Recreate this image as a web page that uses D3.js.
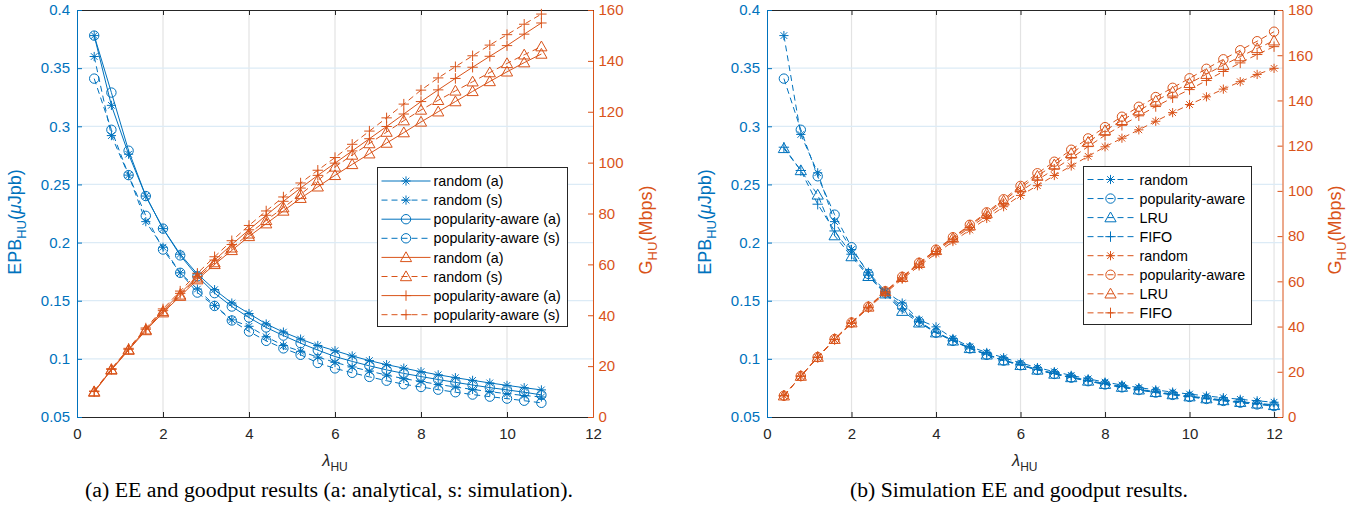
<!DOCTYPE html>
<html><head><meta charset="utf-8">
<script src="https://cdn.jsdelivr.net/npm/d3@7"></script>
<style>body{margin:0;background:#fff}</style>
</head><body>
<svg id="c" width="1364" height="510"></svg>
<script>
// ---------- DATA ----------
const lambdaA = [0.4,0.8,1.2,1.6,2.0,2.4,2.8,3.2,3.6,4.0,4.4,4.8,5.2,5.6,6.0,6.4,6.8,7.2,7.6,8.0,8.4,8.8,9.2,9.6,10.0,10.4,10.8];
const epbRandA = [0.378,0.318,0.276,0.240,0.212,0.190,0.173,0.1595,0.148,0.139,0.130,0.123,0.117,0.1115,0.107,0.1025,0.0985,0.095,0.092,0.089,0.0863,0.0838,0.0815,0.0793,0.0772,0.0752,0.0733];
const epbRandS = [0.360,0.292,0.258,0.218,0.196,0.174,0.160,0.146,0.1335,0.128,0.119,0.1115,0.1065,0.1015,0.097,0.093,0.0895,0.086,0.083,0.0805,0.078,0.0758,0.0737,0.0718,0.0700,0.0685,0.0672];
const epbPopA  = [0.378,0.329,0.279,0.240,0.212,0.189,0.171,0.1565,0.145,0.1355,0.127,0.120,0.1135,0.1075,0.102,0.0978,0.094,0.0905,0.0875,0.0848,0.0822,0.0798,0.0775,0.0753,0.0733,0.0713,0.0690];
const epbPopS  = [0.341,0.297,0.258,0.223,0.194,0.174,0.157,0.1455,0.133,0.1235,0.1155,0.109,0.1035,0.0965,0.0918,0.088,0.0845,0.0812,0.0782,0.0758,0.0735,0.0713,0.0693,0.0675,0.0658,0.0640,0.0622];
const gpRandA = [9.8,18.5,26.3,34.0,41.0,47.5,54.0,60.0,65.5,71.0,76.0,81.0,86.0,90.5,95.0,99.3,103.5,107.7,111.8,116.0,120.0,124.0,128.0,131.9,135.7,139.3,142.7];
const gpRandS = [10.0,18.7,26.5,34.3,41.5,48.0,54.7,60.7,66.5,72.0,77.3,82.3,87.5,93.0,98.3,103.0,107.5,112.0,116.5,120.7,124.5,128.2,131.8,135.4,139.0,142.4,145.6];
const gpPopA  = [10.0,18.7,26.6,34.5,41.8,48.6,55.3,61.7,67.8,73.6,79.3,84.8,90.0,95.0,99.8,104.6,109.4,114.2,119.1,124.0,128.6,133.1,137.5,141.8,146.0,150.5,154.9];
const gpPopS  = [10.2,19.0,27.0,35.0,42.5,49.5,56.5,63.0,69.3,75.3,81.0,86.5,92.0,97.0,102.0,107.2,112.4,117.6,123.0,128.5,133.3,137.7,142.0,146.2,150.3,154.4,158.4];

const lambdaB = [0.4,0.8,1.2,1.6,2.0,2.4,2.8,3.2,3.6,4.0,4.4,4.8,5.2,5.6,6.0,6.4,6.8,7.2,7.6,8.0,8.4,8.8,9.2,9.6,10.0,10.4,10.8,11.2,11.6,12.0];
const epbRandB = [0.378,0.293,0.260,0.218,0.194,0.1745,0.158,0.148,0.1335,0.1275,0.1175,0.1105,0.1055,0.101,0.0965,0.0925,0.089,0.0858,0.0828,0.080,0.0775,0.0753,0.0733,0.0714,0.0697,0.0681,0.0666,0.0652,0.0639,0.0627];
const epbPopB  = [0.341,0.297,0.257,0.224,0.196,0.173,0.157,0.145,0.132,0.1225,0.1155,0.109,0.1035,0.0985,0.0945,0.0905,0.087,0.0838,0.0808,0.078,0.0755,0.0732,0.071,0.069,0.0672,0.0655,0.0638,0.0623,0.0608,0.0594];
const epbLruB  = [0.281,0.262,0.241,0.206,0.188,0.171,0.156,0.141,0.131,0.1225,0.1155,0.109,0.1035,0.0985,0.0945,0.0905,0.087,0.084,0.081,0.0782,0.0757,0.0734,0.0712,0.0693,0.0675,0.0658,0.0642,0.0627,0.0613,0.0600];
const epbFifoB = [0.282,0.262,0.233,0.210,0.190,0.172,0.156,0.143,0.132,0.123,0.116,0.1095,0.104,0.099,0.095,0.091,0.0875,0.0845,0.0815,0.0787,0.0762,0.0739,0.0717,0.0698,0.068,0.0663,0.0647,0.0632,0.0618,0.0605];
const gpRandB = [9.4,18.0,26.3,34.2,41.4,48.2,54.8,61.0,66.8,72.3,77.6,82.7,87.8,93.0,98.0,102.3,106.8,111.0,115.3,119.5,123.3,127.0,130.8,134.6,138.2,141.6,145.0,148.3,151.5,154.2];
const gpPopB  = [9.4,18.1,26.5,34.5,41.8,48.8,55.6,62.0,68.2,74.0,79.5,85.0,90.5,96.3,102.2,107.8,112.9,118.2,123.2,128.2,132.8,137.2,141.5,145.6,149.8,154.0,158.2,162.2,166.2,170.4];
const gpLruB  = [9.4,18.1,26.5,34.4,41.7,48.7,55.5,61.8,68.0,73.7,79.2,84.6,90.0,95.6,101.4,106.6,111.6,116.6,121.6,126.7,131.2,135.5,139.8,143.8,147.6,151.6,155.6,159.4,163.0,166.4];
const gpFifoB = [9.4,18.1,26.4,34.3,41.6,48.5,55.2,61.5,67.6,73.2,78.6,83.8,89.0,94.4,99.8,104.8,109.6,114.5,119.6,124.6,129.0,133.2,137.3,141.2,144.8,148.8,152.8,156.6,160.3,163.8];

const xTickVals = [0,2,4,6,8,10,12];
const epbTickVals = [0.05,0.1,0.15,0.2,0.25,0.3,0.35,0.4];
const gpTickValsA = [0,20,40,60,80,100,120,140,160];
const gpTickValsB = [0,20,40,60,80,100,120,140,160,180];
const legendNamesA = ["random (a)","random (s)","popularity-aware (a)","popularity-aware (s)","random (a)","random (s)","popularity-aware (a)","popularity-aware (s)"];
const legendNamesB = ["random","popularity-aware","LRU","FIFO","random","popularity-aware","LRU","FIFO"];
const captionA = "(a) EE and goodput results (a: analytical, s: simulation).";
const captionB = "(b) Simulation EE and goodput results.";

// ---------- STYLE ----------
const BLUE = "#0072BD", ORANGE = "#D95319", DARK = "#262626";
const SANS = "'Liberation Sans', Arial, Helvetica, sans-serif";
const SERIF = "'Liberation Serif', 'Times New Roman', serif";
const svg = d3.select("#c");

function markerPath(type){
  const r = 4.6, a = r*0.72;
  if(type==="star") return `M0,${-r}V${r}M${-r},0H${r}M${-a},${-a}L${a},${a}M${-a},${a}L${a},${-a}`;
  if(type==="plus") return `M0,-5.2V5.2M-5.2,0H5.2`;
  if(type==="tri") return `M0,-5.6L5.6,4.2L-5.6,4.2Z`;
  return null;
}
function drawMarker(g, type, cx, cy, color){
  if(type==="circle"){
    g.append("circle").attr("cx",cx).attr("cy",cy).attr("r",4.7)
      .attr("fill","none").attr("stroke",color).attr("stroke-width",1);
  } else {
    g.append("path").attr("d",markerPath(type)).attr("transform",`translate(${cx},${cy})`)
      .attr("fill","none").attr("stroke",color).attr("stroke-width",1);
  }
}

function panel(o){
  const x = d3.scaleLinear().domain([0,o.xMax]).range([o.x0,o.x1]);
  const yL = d3.scaleLinear().domain([0.05,0.4]).range([o.yB,o.yT]);
  const yR = d3.scaleLinear().domain([0,o.rMax]).range([o.yB,o.yT]);
  const g = svg.append("g");

  // grid
  g.append("g").selectAll("line").data(xTickVals.filter(v=>v>0 && v<o.xMax)).join("line")
    .attr("x1",d=>x(d)).attr("x2",d=>x(d)).attr("y1",o.yT).attr("y2",o.yB)
    .attr("stroke","#e3e3e3").attr("stroke-width",1.2);
  g.append("g").selectAll("line").data(epbTickVals.slice(1,-1)).join("line")
    .attr("x1",o.x0).attr("x2",o.x1).attr("y1",d=>yL(d)).attr("y2",d=>yL(d))
    .attr("stroke","#dcebf6").attr("stroke-width",1.2);

  // axes
  const ax = d3.axisBottom(x).tickValues(xTickVals).tickSize(-5).tickSizeOuter(0).tickPadding(11).tickFormat(d3.format("d"));
  const gb = g.append("g").attr("transform",`translate(0,${o.yB})`).call(ax);
  gb.select(".domain").attr("stroke",DARK);
  gb.selectAll(".tick line").attr("stroke",DARK);
  gb.selectAll("text").attr("fill",DARK).style("font-family",SANS).style("font-size","15px");

  const gt = g.append("g").attr("transform",`translate(0,${o.yT})`)
    .call(d3.axisTop(x).tickValues(xTickVals).tickSize(-5).tickSizeOuter(0).tickFormat(""));
  gt.select(".domain").attr("stroke",DARK);
  gt.selectAll(".tick line").attr("stroke",DARK);

  const gl = g.append("g").attr("transform",`translate(${o.x0},0)`)
    .call(d3.axisLeft(yL).tickValues(epbTickVals).tickSize(-5).tickSizeOuter(0).tickPadding(7).tickFormat(d=>String(+d.toFixed(2))));
  gl.select(".domain").attr("stroke",BLUE);
  gl.selectAll(".tick line").attr("stroke",BLUE);
  gl.selectAll("text").attr("fill",BLUE).style("font-family",SANS).style("font-size","15px");

  const gr = g.append("g").attr("transform",`translate(${o.x1},0)`)
    .call(d3.axisRight(yR).tickValues(o.rTicks).tickSize(-5).tickSizeOuter(0).tickPadding(5.5).tickFormat(d3.format("d")));
  gr.select(".domain").attr("stroke",ORANGE);
  gr.selectAll(".tick line").attr("stroke",ORANGE);
  gr.selectAll("text").attr("fill",ORANGE).style("font-family",SANS).style("font-size","15px");

  // series
  const drawSeries = (s, yScale, color) => {
    const pts = o.xs.map((xv,i)=>[x(xv), yScale(s.v[i])]);
    g.append("path").attr("d",d3.line()(pts)).attr("fill","none").attr("stroke",color)
      .attr("stroke-width",1).attr("stroke-dasharray",s.dash?"6,4":null);
    const mg = g.append("g");
    pts.forEach(p=>drawMarker(mg, s.m, p[0], p[1], color));
  };
  o.blue.forEach(s=>drawSeries(s,yL,BLUE));
  o.orange.forEach(s=>drawSeries(s,yR,ORANGE));

  // legend
  const L = o.leg;
  const lg = g.append("g");
  lg.append("rect").attr("x",L.x).attr("y",L.y).attr("width",L.w).attr("height",L.h)
    .attr("fill","#fff").attr("stroke",DARK).attr("stroke-width",1);
  const entries = o.blue.map(s=>({...s,c:BLUE})).concat(o.orange.map(s=>({...s,c:ORANGE})));
  entries.forEach((e,i)=>{
    const yy = L.r0 + i*L.dy;
    lg.append("line").attr("x1",L.x+4).attr("x2",L.x+4+L.lw).attr("y1",yy).attr("y2",yy)
      .attr("stroke",e.c).attr("stroke-width",1).attr("stroke-dasharray",e.dash?"6,4":null);
    drawMarker(lg, e.m, L.x+4+L.lw/2, yy, e.c);
    lg.append("text").attr("x",L.x+L.tx).attr("y",yy).attr("dy","0.36em").text(o.names[i])
      .style("font-family",SANS).style("font-size","14.3px").attr("fill","#000");
  });

  // axis labels
  const ylab = g.append("text").attr("transform",`translate(${o.lx},${o.lyc}) rotate(-90)`)
    .attr("text-anchor","middle").attr("fill",BLUE).style("font-family",SANS).style("font-size","18px");
  ylab.append("tspan").text("EPB");
  ylab.append("tspan").text("HU").attr("font-size","13px").attr("dy",4.5);
  ylab.append("tspan").text("(").attr("dy",-4.5);
  ylab.append("tspan").text("μ").attr("font-style","italic");
  ylab.append("tspan").text("Jpb)");

  const rlab = g.append("text").attr("transform",`translate(${o.rx},${o.ryc}) rotate(-90)`)
    .attr("text-anchor","middle").attr("fill",ORANGE).style("font-family",SANS).style("font-size","18px");
  rlab.append("tspan").text("G");
  rlab.append("tspan").text("HU").attr("font-size","13px").attr("dy",4.5);
  rlab.append("tspan").text("(Mbps)").attr("dy",-4.5);

  const xlab = g.append("text").attr("x",(o.x0+o.x1)/2).attr("y",466).attr("text-anchor","middle")
    .attr("fill",DARK).style("font-family",SANS).style("font-size","16.5px");
  xlab.append("tspan").text("λ").attr("font-style","italic");
  xlab.append("tspan").text("HU").attr("font-size","12px").attr("dy",5);

  // caption
  const cap = g.append("text").attr("x",o.capX).attr("y",497).attr("text-anchor","middle")
    .attr("fill","#000").style("font-family",SERIF).style("font-size","17px").text(o.caption);
  const len = cap.node().getComputedTextLength();
  cap.style("font-size", (17*o.capW/len).toFixed(2)+"px");
}

panel({
  x0:77, x1:593, xMax:12, yT:10, yB:417, rMax:160, rTicks:gpTickValsA, xs:lambdaA,
  blue:[{v:epbRandA,dash:false,m:"star"},{v:epbRandS,dash:true,m:"star"},{v:epbPopA,dash:false,m:"circle"},{v:epbPopS,dash:true,m:"circle"}],
  orange:[{v:gpRandA,dash:false,m:"tri"},{v:gpRandS,dash:true,m:"tri"},{v:gpPopA,dash:false,m:"plus"},{v:gpPopS,dash:true,m:"plus"}],
  names:legendNamesA,
  leg:{x:377.5,y:167.5,w:190,h:159,r0:181,dy:19.1,lw:49,tx:56},
  lx:21, lyc:222, rx:652, ryc:230, caption:captionA, capX:329, capW:488
});
panel({
  x0:767, x1:1282.5, xMax:12.2, yT:10, yB:417, rMax:180, rTicks:gpTickValsB, xs:lambdaB,
  blue:[{v:epbRandB,dash:true,m:"star"},{v:epbPopB,dash:true,m:"circle"},{v:epbLruB,dash:true,m:"tri"},{v:epbFifoB,dash:true,m:"plus"}],
  orange:[{v:gpRandB,dash:true,m:"star"},{v:gpPopB,dash:true,m:"circle"},{v:gpLruB,dash:true,m:"tri"},{v:gpFifoB,dash:true,m:"plus"}],
  names:legendNamesB,
  leg:{x:1083.5,y:166.5,w:168,h:158,r0:179.5,dy:19.05,lw:46,tx:56},
  lx:711, lyc:222, rx:1341, ryc:230, caption:captionB, capX:1019, capW:338
});
</script>
</body></html>
